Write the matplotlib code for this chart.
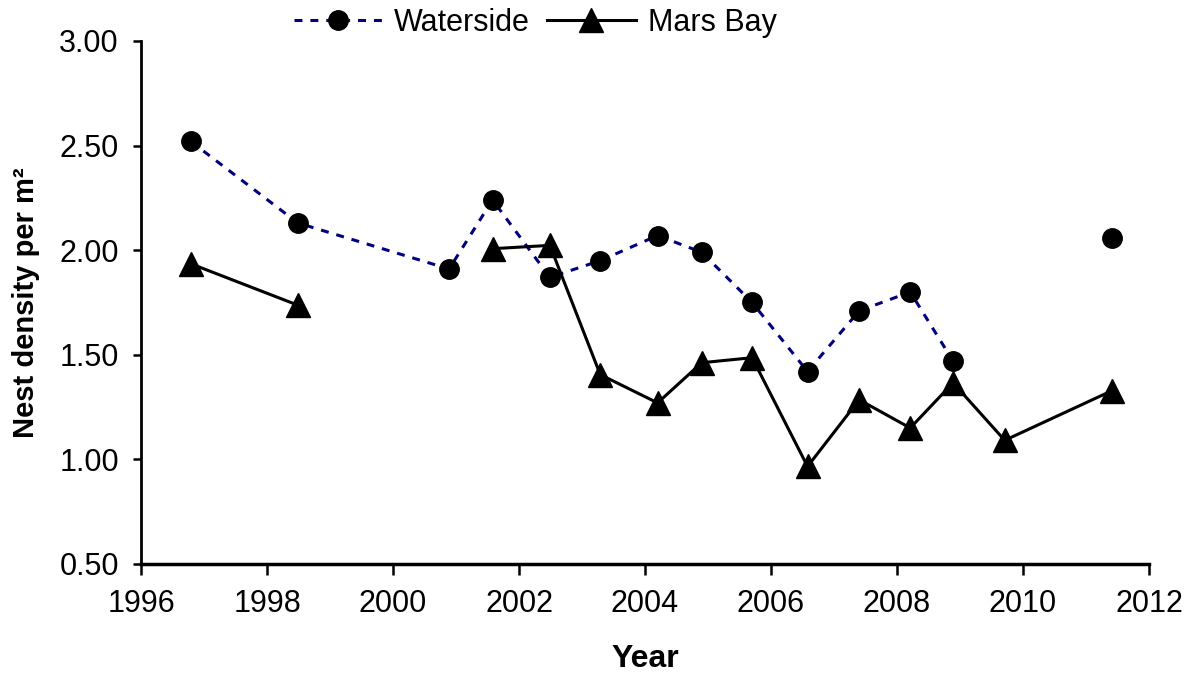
import numpy as np
import matplotlib
matplotlib.use('Agg')
import matplotlib.pyplot as plt

plt.rcParams['font.family'] = ['Liberation Sans', 'DejaVu Sans']

# survey dates (decimal years) shared by both sites; nan = no survey
years = [1996.79, 1998.49, 2000.89, 2001.58, 2002.49, 2003.29, 2004.20, 2004.90,
         2005.70, 2006.58, 2007.40, 2008.21, 2008.89, 2009.71, 2011.41]
waterside = [2.52, 2.13, 1.91, 2.24, 1.87, 1.95, 2.07, 1.99,
             1.75, 1.42, 1.71, 1.80, 1.47, np.nan, 2.06]
mars_bay = [1.935, 1.737, np.nan, 2.007, 2.023, 1.405, 1.27, 1.462,
            1.486, 0.966, 1.285, 1.15, 1.366, 1.091, 1.328]

xticks = list(range(1996, 2013, 2))
yticks = [0.5, 1.0, 1.5, 2.0, 2.5, 3.0]


def nest_plot():
    fig = plt.figure(figsize=(11.99, 6.75), dpi=100)
    ax = fig.add_axes([0.1176, 0.1645, 0.8407, 0.7748])

    ax.plot(years, waterside, color='#000080', lw=2.2, linestyle=(0, (2.6, 2.6)),
            marker='o', markersize=14, markerfacecolor='black',
            markeredgecolor='black', label='Waterside')
    ax.plot(years, mars_bay, color='black', lw=2.2, linestyle='-',
            marker='^', markersize=17, markerfacecolor='black',
            markeredgecolor='black', label='Mars Bay')

    ax.set_xlim(1996, 2012)
    ax.set_ylim(0.5, 3.0)
    ax.set_xticks(xticks)
    ax.set_yticks(yticks)
    ax.set_yticklabels(['%.2f' % v for v in yticks])

    for side in ['top', 'right']:
        ax.spines[side].set_visible(False)
    ax.spines['left'].set_linewidth(2)
    ax.spines['bottom'].set_linewidth(2.5)
    ax.tick_params(axis='both', labelsize=22, width=1.8, direction='out')
    ax.tick_params(axis='y', length=6, pad=10)
    ax.tick_params(axis='x', length=8, pad=10)

    ax.set_xlabel('Year', fontsize=23, fontweight='bold', labelpad=18)
    ax.set_ylabel('Nest density per m²', fontsize=21, fontweight='bold', labelpad=14)

    ax.legend(loc='center', bbox_to_anchor=(0.391, 1.035), ncol=2, frameon=False,
              fontsize=22, handlelength=2.9, columnspacing=0.55, handletextpad=0.4,
              borderaxespad=0)

    fig.savefig('out.png', dpi=100)


if __name__ == '__main__':
    nest_plot()
